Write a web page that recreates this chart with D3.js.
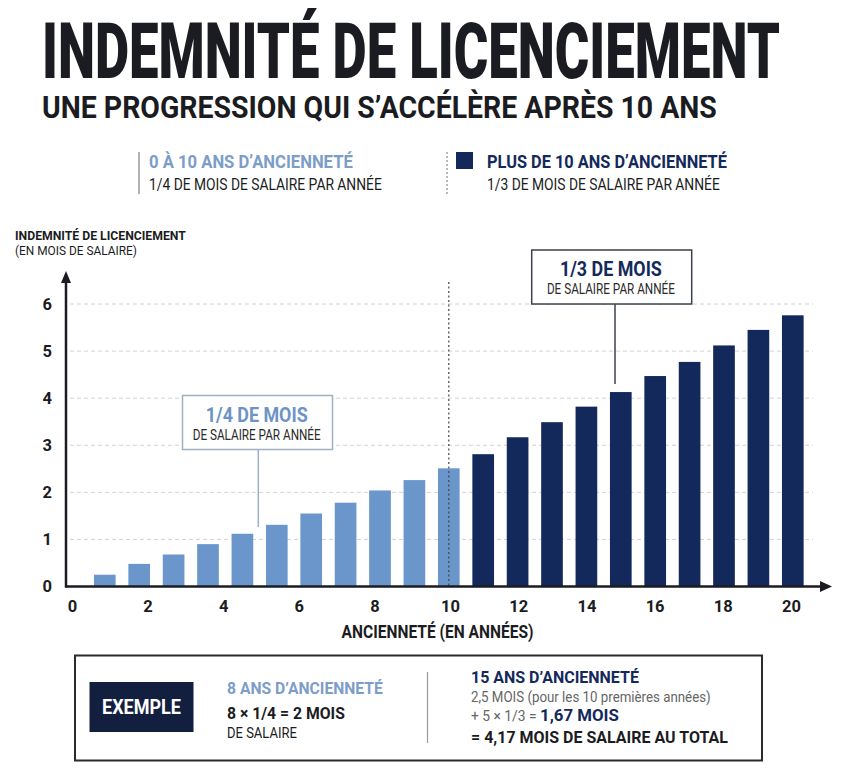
<!DOCTYPE html>
<html lang="fr">
<head>
<meta charset="utf-8">
<script src="https://cdn.jsdelivr.net/npm/d3@7"></script>
<style>
  body { margin: 0; background: #fff; }
  svg { display: block; font-family: Roboto, "Liberation Sans", Arial, sans-serif; }
</style>
</head>
<body>
<div id="chart"></div>
<script>
// data
const years = [0, 1, 2, 3, 4, 5, 6, 7, 8, 9, 10, 11, 12, 13, 14, 15, 16, 17, 18, 19, 20];
const months = [0.25, 0.48, 0.68, 0.90, 1.12, 1.31, 1.55, 1.78, 2.04, 2.26, 2.51,
                2.81, 3.17, 3.49, 3.82, 4.13, 4.47, 4.77, 5.12, 5.45, 5.76];
const xTicks = [0, 2, 4, 6, 8, 10, 12, 14, 16, 18, 20];
const yTicks = [0, 1, 2, 3, 4, 5, 6];
const threshold = 10;

//set dimensions
const width = 843,
    height = 768;

const ink = "#1b1c22",
    light = "#6b96cb",
    navy = "#14295b",
    lightText = "#7d9dc9";

const svg = d3.select("#chart")
    .append("svg")
    .attr("width", width)
    .attr("height", height);

svg.append("rect").attr("width", width).attr("height", height).attr("fill", "#fff");

// helper for texts; scaled horizontally to the width seen in the picture
function label(g, txt, o) {
    const t = g.append("text")
        .attr("transform", `translate(${o.x},${o.y})`)
        .attr("font-size", o.size)
        .attr("font-weight", o.weight || 400)
        .attr("fill", o.fill || ink)
        .attr("text-anchor", o.anchor || "start")
        .text(txt);
    if (o.parts) {
        o.parts.forEach(p => {
            const s = t.append("tspan").text(p.text);
            if (p.size) s.attr("font-size", p.size);
            if (p.weight) s.attr("font-weight", p.weight);
            if (p.fill) s.attr("fill", p.fill);
        });
    }
    if (o.w) {
        const len = t.node().getComputedTextLength();
        t.attr("transform", `translate(${o.x},${o.y}) scale(${o.w / len},1)`);
    }
    return t;
}

// titles
label(svg, "INDEMNITÉ DE LICENCIEMENT", {x: 42, y: 78, size: 78, weight: 900, w: 738});
label(svg, "UNE PROGRESSION QUI S’ACCÉLÈRE APRÈS 10 ANS", {x: 42, y: 118, size: 31, weight: 700, w: 675});

// legend
const legend = svg.append("g").attr("id", "legend");
legend.append("line")
    .attr("x1", 139).attr("x2", 139).attr("y1", 152).attr("y2", 194)
    .attr("stroke", "#9a9a9a").attr("stroke-width", 1.5);
label(legend, "0 À 10 ANS D’ANCIENNETÉ", {x: 149, y: 168, size: 17.5, weight: 700, fill: lightText, w: 204});
label(legend, "1/4 DE MOIS DE SALAIRE PAR ANNÉE", {x: 149, y: 190, size: 16, w: 233});

legend.append("line")
    .attr("x1", 447).attr("x2", 447).attr("y1", 152).attr("y2", 194)
    .attr("stroke", "#8a8a8a").attr("stroke-width", 1.2).attr("stroke-dasharray", "2,2");
legend.append("rect")
    .attr("x", 456).attr("y", 152).attr("width", 17).attr("height", 17)
    .attr("fill", navy);
label(legend, "PLUS DE 10 ANS D’ANCIENNETÉ", {x: 487, y: 168, size: 17.5, weight: 700, fill: navy, w: 240});
label(legend, "1/3 DE MOIS DE SALAIRE PAR ANNÉE", {x: 487, y: 190, size: 16, w: 233});

// scales
const xScale = d3.scaleBand()
    .domain(years)
    .range([87.6, 810])
    .paddingInner(0.37)
    .paddingOuter(0.185);

// tick labels are not evenly spread in the picture
const xTickScale = d3.scaleLinear()
    .domain([0, 10, 20])
    .range([72, 450, 791]);

const yScale = d3.scaleLinear()
    .domain([0, 6])
    .range([586.5, 304]);

const axisX0 = 66;

// grid
svg.append("g")
    .attr("class", "grid")
    .selectAll("line")
    .data(yTicks.filter(d => d > 0))
    .enter()
    .append("line")
    .attr("x1", axisX0 + 4)
    .attr("x2", 813)
    .attr("y1", d => yScale(d))
    .attr("y2", d => yScale(d))
    .attr("stroke", "#d2d2d2")
    .attr("stroke-width", 1)
    .attr("stroke-dasharray", "4,3");

// bars
svg.append("g")
    .attr("class", "bars")
    .selectAll("rect")
    .data(years)
    .enter()
    .append("rect")
    .attr("x", d => xScale(d))
    .attr("y", (d, i) => yScale(months[i]))
    .attr("width", xScale.bandwidth())
    .attr("height", (d, i) => yScale(0) - yScale(months[i]))
    .attr("fill", d => d <= threshold ? light : navy);

// dotted line at 10 years
const x10 = xScale(threshold) + xScale.bandwidth() / 2;
svg.append("line")
    .attr("x1", x10).attr("x2", x10)
    .attr("y1", 282).attr("y2", yScale(0))
    .attr("stroke", "#444").attr("stroke-width", 1.2)
    .attr("stroke-dasharray", "2,2.5");

// axes lines with arrows
svg.append("line")
    .attr("x1", axisX0).attr("x2", 826)
    .attr("y1", yScale(0)).attr("y2", yScale(0))
    .attr("stroke", ink).attr("stroke-width", 2.5);
svg.append("path")
    .attr("d", `M832,${yScale(0)} L820,${yScale(0) - 5.5} L820,${yScale(0) + 5.5} Z`)
    .attr("fill", ink);
svg.append("line")
    .attr("x1", axisX0).attr("x2", axisX0)
    .attr("y1", yScale(0) + 1.2).attr("y2", 280)
    .attr("stroke", ink).attr("stroke-width", 2.5);
svg.append("path")
    .attr("d", `M${axisX0},271 L${axisX0 - 5},283 L${axisX0 + 5},283 Z`)
    .attr("fill", ink);

// tick labels
const xAxis = d3.axisBottom(xTickScale)
    .tickValues(xTicks)
    .tickSize(0)
    .tickPadding(13.5)
    .tickFormat(d3.format("d"));
const yAxis = d3.axisLeft(yScale)
    .tickValues(yTicks)
    .tickSize(0)
    .tickPadding(14)
    .tickFormat(d3.format("d"));

const gx = svg.append("g")
    .attr("id", "x-axis")
    .attr("transform", `translate(0,${yScale(0)})`)
    .call(xAxis);
const gy = svg.append("g")
    .attr("id", "y-axis")
    .attr("transform", `translate(${axisX0},0)`)
    .call(yAxis);
[gx, gy].forEach(g => {
    g.attr("font-family", null);
    g.select(".domain").remove();
    g.selectAll("text")
        .attr("font-size", 16.5)
        .attr("font-weight", 700)
        .attr("fill", ink);
});

// axis titles
label(svg, "ANCIENNETÉ (EN ANNÉES)", {x: 437.5, y: 638, size: 17.5, weight: 700, anchor: "middle", w: 192});
label(svg, "INDEMNITÉ DE LICENCIEMENT", {x: 15, y: 240, size: 13, weight: 700, w: 171});
label(svg, "(EN MOIS DE SALAIRE)", {x: 15, y: 254.5, size: 13, w: 122});

// annotations
const notes = [
    {head: "1/4 DE MOIS", color: "#6f93c4", border: "#9fb0c4", box: [182.5, 395.5, 150, 54], lineTo: 527, lx: 258.3},
    {head: "1/3 DE MOIS", color: navy, border: "#3b404c", box: [531.7, 250, 160, 54], lineTo: 384, lx: 615}
];
notes.forEach(n => {
    const g = svg.append("g").attr("class", "note");
    const [bx, by, bw, bh] = n.box;
    g.append("line")
        .attr("x1", n.lx).attr("x2", n.lx)
        .attr("y1", by + bh).attr("y2", n.lineTo)
        .attr("stroke", n.border).attr("stroke-width", 1.5);
    g.append("rect")
        .attr("x", bx).attr("y", by).attr("width", bw).attr("height", bh)
        .attr("fill", "#fff").attr("stroke", n.border).attr("stroke-width", 1.5);
    const cx = bx + bw / 2 - 0.8;
    label(g, n.head, {x: cx, y: by + 26, size: 19.5, weight: 700, fill: n.color, anchor: "middle", w: 102});
    label(g, "DE SALAIRE PAR ANNÉE", {x: cx, y: by + 44, size: 14, fill: "#2a2a2a", anchor: "middle", w: 128});
});

// example box
const ex = svg.append("g").attr("id", "example");
ex.append("rect")
    .attr("x", 75).attr("y", 655.5).attr("width", 687).attr("height", 105)
    .attr("fill", "#fff").attr("stroke", "#2b2b2b").attr("stroke-width", 2);
ex.append("rect")
    .attr("x", 89.5).attr("y", 682).attr("width", 104).attr("height", 50)
    .attr("fill", "#131f3f");
label(ex, "EXEMPLE", {x: 141.5, y: 714, size: 20, weight: 700, fill: "#fff", anchor: "middle", w: 79});
label(ex, "8 ANS D’ANCIENNETÉ", {x: 227, y: 693.5, size: 16.5, weight: 700, fill: lightText, w: 156});
label(ex, "8 × 1/4 = 2 MOIS", {x: 227, y: 718.5, size: 16.5, weight: 700, fill: ink, w: 118});
label(ex, "DE SALAIRE", {x: 227, y: 737.5, size: 14, fill: ink, w: 70});
ex.append("line")
    .attr("x1", 427.5).attr("x2", 427.5).attr("y1", 672).attr("y2", 743)
    .attr("stroke", "#9a9a9a").attr("stroke-width", 1.2);
label(ex, "15 ANS D’ANCIENNETÉ", {x: 471, y: 683, size: 16.5, weight: 700, fill: navy, w: 168});
label(ex, "2,5 MOIS (pour les 10 premières années)", {x: 471, y: 702, size: 14, fill: "#666", w: 240});
label(ex, "", {x: 471, y: 721, size: 14, fill: "#666", w: 148, parts: [
    {text: "+ 5 × 1/3 = "},
    {text: "1,67 MOIS", size: 17, weight: 700, fill: navy}
]});
label(ex, "= 4,17 MOIS DE SALAIRE AU TOTAL", {x: 471, y: 743, size: 17, weight: 700, fill: ink, w: 257});
</script>
</body>
</html>
